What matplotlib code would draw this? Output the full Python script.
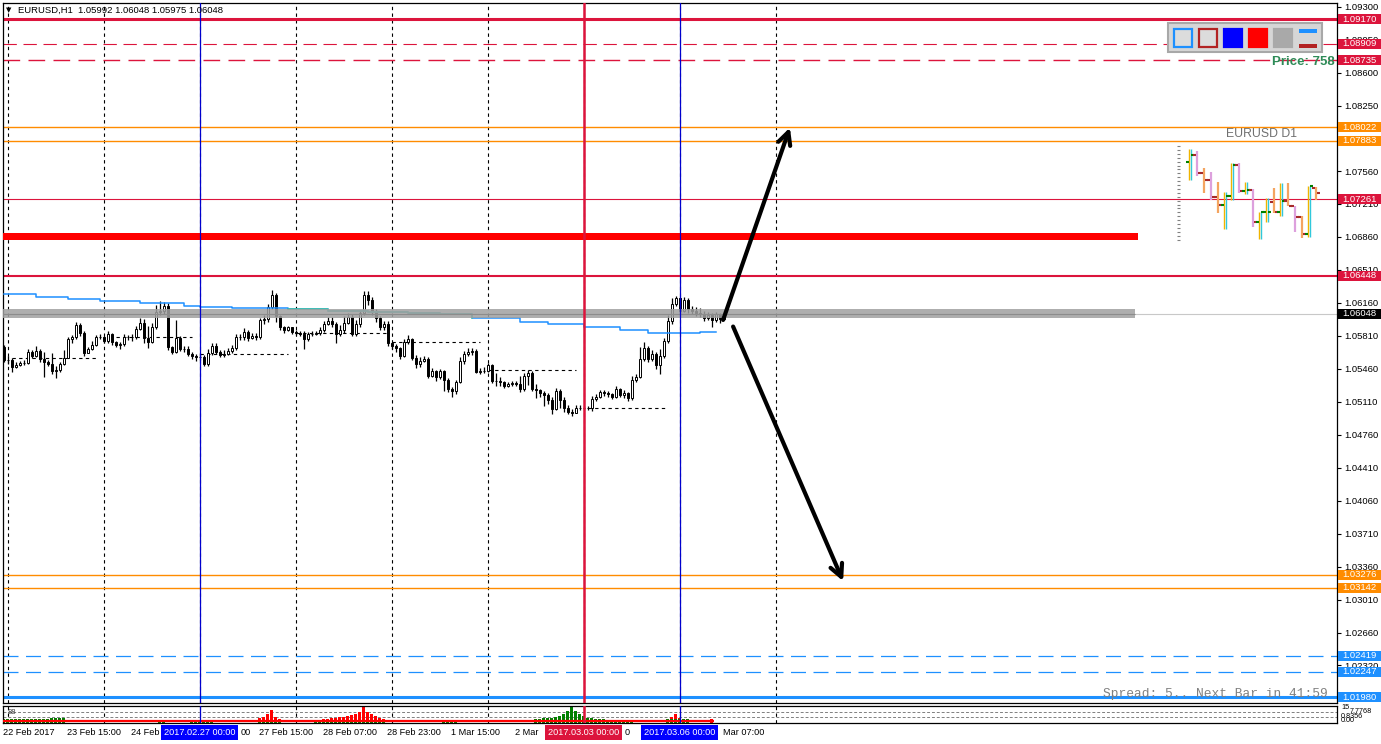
import numpy as np
import matplotlib
matplotlib.use("Agg")
import matplotlib.pyplot as plt
from matplotlib.patches import Rectangle
from matplotlib.transforms import blended_transform_factory as btf

plt.rcParams['font.family'] = ['Liberation Sans', 'DejaVu Sans']

# ---------------- data ----------------
first_open = 1.0569
close = [1.0556,1.0556,1.0548,1.0550,1.0552,1.0552,1.0564,1.0560,1.0565,1.0557,
         1.0553,1.0551,1.0544,1.0545,1.0551,1.0558,1.0578,1.0580,1.0593,1.0584,
         1.0563,1.0567,1.0571,1.0580,1.0580,1.0576,1.0583,1.0575,1.0571,1.0573,
         1.0580,1.0580,1.0580,1.0588,1.0595,1.0579,1.0575,1.0591,1.0606,1.0608,
         1.0613,1.0569,1.0564,1.0579,1.0567,1.0567,1.0562,1.0560,1.0559,1.0559,
         1.0551,1.0563,1.0570,1.0564,1.0561,1.0562,1.0565,1.0568,1.0580,1.0580,
         1.0585,1.0579,1.0581,1.0580,1.0598,1.0599,1.0612,1.0624,1.0602,1.0590,
         1.0587,1.0590,1.0585,1.0584,1.0583,1.0578,1.0583,1.0583,1.0584,1.0587,
         1.0594,1.0597,1.0594,1.0583,1.0587,1.0595,1.0601,1.0583,1.0594,1.0605,
         1.0624,1.0619,1.0606,1.0600,1.0590,1.0594,1.0574,1.0570,1.0568,1.0560,
         1.0575,1.0578,1.0558,1.0551,1.0554,1.0557,1.0539,1.0544,1.0537,1.0544,
         1.0534,1.0525,1.0523,1.0532,1.0554,1.0562,1.0564,1.0565,1.0543,1.0544,
         1.0544,1.0550,1.0533,1.0533,1.0532,1.0528,1.0530,1.0531,1.0530,1.0525,
         1.0539,1.0542,1.0525,1.0524,1.0521,1.0518,1.0513,1.0504,1.0523,1.0513,
         1.0505,1.0500,1.0499,1.0505,1.0505,1.0505,1.0505,1.0514,1.0516,1.0522,
         1.0521,1.0519,1.0516,1.0525,1.0518,1.0521,1.0515,1.0534,1.0537,1.0557,
         1.0568,1.0557,1.0562,1.0550,1.0560,1.0576,1.0597,1.0615,1.0621,1.0608,
         1.0619,1.0610,1.0608,1.0605,1.0604,1.0600,1.0603,1.0598,1.0604,1.05992,
         1.06048]
high = [1.0571,1.0560,1.0558,1.0553,1.0554,1.0556,1.0567,1.0566,1.0570,1.0567,
        1.0564,1.0556,1.0563,1.0549,1.0553,1.0566,1.0580,1.0582,1.0596,1.0595,
        1.0586,1.0569,1.0576,1.0582,1.0583,1.0581,1.0586,1.0584,1.0576,1.0575,
        1.0583,1.0582,1.0583,1.0592,1.0600,1.0599,1.0592,1.0595,1.0614,1.0618,
        1.0617,1.0616,1.0570,1.0598,1.0581,1.0570,1.0570,1.0564,1.0562,1.0563,
        1.0561,1.0567,1.0574,1.0574,1.0566,1.0566,1.0568,1.0571,1.0583,1.0583,
        1.0589,1.0587,1.0584,1.0584,1.0600,1.0603,1.0615,1.0630,1.0627,1.0603,
        1.0592,1.0592,1.0590,1.0587,1.0586,1.0586,1.0585,1.0586,1.0586,1.0590,
        1.0597,1.0601,1.0601,1.0596,1.0593,1.0602,1.0605,1.0604,1.0598,1.0609,
        1.0629,1.0629,1.0622,1.0610,1.0602,1.0597,1.0597,1.0575,1.0573,1.0569,
        1.0578,1.0582,1.0579,1.0561,1.0559,1.0560,1.0559,1.0547,1.0545,1.0546,
        1.0545,1.0536,1.0527,1.0534,1.0559,1.0565,1.0568,1.0568,1.0567,1.0547,
        1.0548,1.0552,1.0551,1.0542,1.0537,1.0533,1.0532,1.0533,1.0533,1.0539,
        1.0542,1.0545,1.0544,1.0530,1.0525,1.0523,1.0521,1.0516,1.0526,1.0525,
        1.0516,1.0508,1.0504,1.0508,1.0508,1.0507,1.0507,1.0517,1.0519,1.0524,
        1.0524,1.0523,1.0521,1.0528,1.0526,1.0524,1.0522,1.0539,1.0541,1.0569,
        1.0575,1.0570,1.0566,1.0564,1.0567,1.0579,1.0603,1.0621,1.0623,1.0622,
        1.0622,1.0621,1.0613,1.0612,1.0611,1.0608,1.0606,1.0605,1.0606,1.0605,
        1.06048]
low = [1.0553,1.0551,1.0543,1.0547,1.0549,1.0550,1.0551,1.0558,1.0559,1.0553,
       1.0537,1.0549,1.0541,1.0536,1.0543,1.0550,1.0558,1.0574,1.0578,1.0581,
       1.0560,1.0563,1.0566,1.0570,1.0578,1.0574,1.0574,1.0571,1.0569,1.0567,
       1.0570,1.0577,1.0576,1.0578,1.0587,1.0574,1.0568,1.0574,1.0588,1.0603,
       1.0604,1.0566,1.0562,1.0563,1.0565,1.0564,1.0560,1.0557,1.0554,1.0556,
       1.0549,1.0549,1.0561,1.0562,1.0559,1.0559,1.0561,1.0563,1.0566,1.0577,
       1.0577,1.0576,1.0578,1.0577,1.0578,1.0594,1.0596,1.0610,1.0596,1.0587,
       1.0584,1.0586,1.0583,1.0582,1.0581,1.0567,1.0576,1.0581,1.0582,1.0582,
       1.0585,1.0593,1.0591,1.0574,1.0581,1.0584,1.0594,1.0581,1.0581,1.0591,
       1.0603,1.0614,1.0603,1.0596,1.0587,1.0587,1.0570,1.0567,1.0564,1.0557,
       1.0559,1.0573,1.0556,1.0547,1.0548,1.0553,1.0536,1.0537,1.0533,1.0535,
       1.0523,1.0522,1.0516,1.0519,1.0531,1.0551,1.0560,1.0561,1.0542,1.0541,
       1.0542,1.0543,1.0531,1.0528,1.0528,1.0526,1.0527,1.0528,1.0528,1.0522,
       1.0523,1.0529,1.0523,1.0515,1.0516,1.0507,1.0509,1.0498,1.0503,1.0505,
       1.0500,1.0498,1.0496,1.0499,1.0503,1.0503,1.0503,1.0501,1.0512,1.0515,
       1.0517,1.0516,1.0514,1.0515,1.0516,1.0515,1.0512,1.0513,1.0532,1.0536,
       1.0554,1.0553,1.0554,1.0546,1.0541,1.0558,1.0574,1.0594,1.0613,1.0605,
       1.0606,1.0605,1.0604,1.0602,1.0601,1.0597,1.0598,1.0591,1.0596,1.0595,
       1.05975]

# moving average (stepped, read at bar indices)
ma_idx = [0, 8, 16, 24, 34, 45, 49, 57, 71, 81, 91, 101, 109, 117, 129, 136, 145, 154, 161, 169, 174, 178]
ma_val = [1.0626, 1.0622, 1.0620, 1.0618, 1.0616, 1.0613, 1.0612, 1.0611, 1.0610, 1.0608, 1.0606,
          1.0605, 1.0604, 1.0600, 1.0596, 1.0594, 1.0590, 1.0587, 1.0584, 1.0584, 1.0585, 1.0585]

# previous-day dashed levels: start bar, end bar, price
lvl_start = [2, 28, 49, 73, 97, 121, 146]
lvl_end = [23, 47, 71, 96, 119, 143, 166]
lvl_price = [1.0558, 1.0580, 1.0562, 1.0584, 1.0575, 1.0545, 1.0505]

# horizontal price lines
h_levels = [1.09170, 1.08909, 1.08735, 1.08022, 1.07883, 1.07261, 1.06448,
            1.06048, 1.03276, 1.03142, 1.02419, 1.02247, 1.01980]
h_labels = ["1.09170", "1.08909", "1.08735", "1.08022", "1.07883", "1.07261", "1.06448",
            "1.06048", "1.03276", "1.03142", "1.02419", "1.02247", "1.01980"]

price_ticks = [1.09300, 1.08950, 1.08600, 1.08250, 1.07560, 1.07210, 1.06860,
               1.06510, 1.06160, 1.05810, 1.05460, 1.05110, 1.04760, 1.04410, 1.04060,
               1.03710, 1.03360, 1.03010, 1.02660, 1.02320]

# time axis: visible label parts (bar index of label start, text)
time_idx = [0, 16, 32, 64, 80, 96, 112, 128]
time_lbl = ["22 Feb 2017", "23 Feb 15:00", "24 Feb", "27 Feb 15:00",
            "28 Feb 07:00", "28 Feb 23:00", "1 Mar 15:00", "2 Mar"]
# tails of labels that show beside the date boxes
tail_pos = [59.3, 155.3, 179.8]
tail_lbl = ["00", "0", "Mar 07:00"]

grid_idx = [1, 25, 49, 73, 97, 121, 145, 169, 193]
vline_idx = [49, 145, 169]
vline_lbl = ["2017.02.27 00:00", "2017.03.03 00:00", "2017.03.06 00:00"]

# zone rectangles (low, high, end bar)
red_zone = (1.06828, 1.06903, 283.6)
gray_zone = (1.06001, 1.06097, 282.9)

# arrows (from bar/price -> to bar/price)
arr_up = ((179.9, 1.0598), (196.6, 1.0802))
arr_dn = ((182.4, 1.0591), (209.9, 1.0321))

# sub-window indicator
green_idx = list(range(0, 16)) + [39, 40] + list(range(47, 53)) + list(range(64, 70)) \
    + list(range(78, 96)) + list(range(110, 114)) + list(range(133, 158)) + list(range(166, 172))
green_val = [4, 4, 4, 4, 4, 4, 4, 4, 4, 4, 4, 4, 5, 5, 5, 5,
             3.5, 3.5,
             3.5, 3.5, 3.5, 3.5, 3.5, 3.5,
             3.5, 3.5, 3.5, 3.5, 3.5, 3.5,
             3.5, 3.5, 3.5, 3.5, 3.5, 3.5, 3.5, 3.5, 3.5, 3.5, 3.5, 3.5, 3.5, 3.5, 3.5, 3.5, 3.5, 3.5,
             3, 3, 3, 3,
             4, 4, 5, 5, 5, 6, 7, 9, 12, 16, 12, 9, 7, 5, 5, 4, 4, 4, 3.5, 3.5, 3.5, 3.5, 3.5, 3.5, 3.5,
             4, 4, 4, 4, 4, 4]
red_idx = [64, 65, 66, 67, 68, 69] + list(range(80, 96)) + [167, 168, 169, 177]
red_val = [5, 6, 9, 13, 6, 4,
           4, 4, 5, 5, 6, 6, 7, 8, 9, 11, 16, 11, 9, 7, 5, 4,
           6, 9, 5, 4]

# mini D1 chart
d1_high = [1.0829, 1.0822, 1.0758, 1.0743, 1.0706, 1.0669, 1.0777, 1.0777, 1.0706, 1.0680,
           1.0595, 1.0647, 1.0684, 1.0703, 1.0703, 1.0617, 1.0580, 1.0691, 1.0688]
d1_low = [1.0714, 1.0729, 1.0665, 1.0639, 1.0591, 1.0531, 1.0639, 1.0665, 1.0662, 1.0539,
          1.0494, 1.0557, 1.0591, 1.0580, 1.0617, 1.0520, 1.0498, 1.0502, 1.0639]
d1_open = [1.0781, 1.0807, 1.0740, 1.0714, 1.0650, 1.0621, 1.0654, 1.0769, 1.0673, 1.0676,
           1.0557, 1.0595, 1.0632, 1.0595, 1.0636, 1.0617, 1.0576, 1.0513, 1.0684]
d1_close = [1.0807, 1.0740, 1.0714, 1.0650, 1.0621, 1.0654, 1.0769, 1.0673, 1.0676, 1.0557,
            1.0595, 1.0595, 1.0595, 1.0636, 1.0617, 1.0576, 1.0513, 1.0691, 1.0665]
d1_color = ['up', 'plum', 'sandy', 'plum', 'sandy', 'up', 'up', 'plum', 'up', 'plum',
            'up', 'up', 'sandy', 'up', 'sandy', 'plum', 'sandy', 'up', 'sandy']

# ---------------- figure ----------------
W, H = 1381, 744
fig = plt.figure(figsize=(W / 100, H / 100), dpi=100)
fig.patch.set_facecolor('white')


def fx(px):
    return px / W


def fy(py):
    return 1 - py / H


ax = fig.add_axes([fx(3), fy(703), 1334 / W, 700 / H])
axv = fig.add_axes([fx(3), fy(723), 1334 / W, 17 / H])
XL = (-0.125, 333.375)
ax.set_xlim(*XL)
ax.set_ylim(1.01917, 1.09342)
axv.set_xlim(*XL)
axv.set_ylim(0, 17)
for a in (ax, axv):
    for s in a.spines.values():
        s.set_linewidth(0.9)
        s.set_color('black')
    a.set_xticks([])
axv.set_yticks([])
ax.yaxis.tick_right()
ax.set_yticks(price_ticks)
ax.set_yticklabels([f"{v:.5f}" for v in price_ticks])
ax.tick_params(axis='y', direction='out', length=3, width=0.8, pad=2, labelsize=6.8)

# grid verticals
for a in (ax, axv):
    for g in grid_idx:
        a.axvline(g, color='black', lw=0.8, ls=(0, (3, 3)), zorder=1)

# horizontal lines
h_colors = ['#DC143C', '#DC143C', '#DC143C', '#FF8C00', '#FF8C00', '#DC143C', '#DC143C',
            '#C8C8C8', '#FF8C00', '#FF8C00', '#1E90FF', '#1E90FF', '#1E90FF']
h_widths = [2.2, 0.8, 1.0, 1.0, 1.0, 0.8, 1.5, 0.8, 1.0, 1.0, 0.9, 0.9, 2.2]
h_styles = ['-', (0, (12, 6)), (0, (12, 6)), '-', '-', '-', '-', '-', '-', '-',
            (0, (12, 6)), (0, (12, 6)), '-']
for lv, c, w, s in zip(h_levels, h_colors, h_widths, h_styles):
    ax.axhline(lv, color=c, lw=w, ls=s, zorder=2)

# candles
close_a = np.array(close)
open_a = np.array([first_open] + close[:-1])
hi_a = np.maximum(np.array(high), np.maximum(open_a, close_a))
lo_a = np.minimum(np.array(low), np.minimum(open_a, close_a))
idx = np.arange(len(close_a))
ax.vlines(idx, lo_a, hi_a, color='black', lw=0.9, zorder=3)
bottom = np.minimum(open_a, close_a)
height = np.abs(close_a - open_a)
fcol = ['white' if c >= o else 'black' for o, c in zip(open_a, close_a)]
ax.bar(idx, height, bottom=bottom, width=0.5, color=fcol, edgecolor='black', linewidth=0.7, zorder=3.1)

# previous-day levels
for s, e, p in zip(lvl_start, lvl_end, lvl_price):
    ax.hlines(p, s, e, color='black', lw=0.8, ls=(0, (3, 3)), zorder=2.5)

# moving average
ma_i = np.array(ma_idx)
ma_v = np.array(ma_val)
ax.plot(ma_i, ma_v, drawstyle='steps-post', color='#1E90FF', lw=1.1, zorder=3.5)
seg = (ma_i >= 71) & (ma_i <= 117)
ax.plot(ma_i[seg], ma_v[seg], drawstyle='steps-post', color='#3EC4A2', lw=1.1, zorder=3.6)

# zones
ax.fill_between([XL[0], red_zone[2]], red_zone[0], red_zone[1], color='#FF0000', lw=0, zorder=4)
ax.fill_between([XL[0], gray_zone[2]], gray_zone[0], gray_zone[1], color='#A0A0A0', alpha=0.85, lw=0, zorder=4)
ax.hlines(1.06048, XL[0], gray_zone[2], color='#8C8C8C', lw=0.8, zorder=4.1)

# vertical object lines
vcols = ['#0000CD', '#DC143C', '#0000CD']
vws = [0.9, 1.8, 0.9]
for a in (ax, axv):
    for v, c, w in zip(vline_idx, vcols, vws):
        a.axvline(v, color=c, lw=w, zorder=5)

# arrows
for (x0, y0), (x1, y1) in (arr_up, arr_dn):
    ax.annotate('', xy=(x1, y1), xytext=(x0, y0),
                arrowprops=dict(arrowstyle='->,head_length=0.9,head_width=0.45',
                                color='black', lw=3.0, shrinkA=0, shrinkB=0), zorder=6)

# price label boxes
box_cols = ['#DC143C', '#DC143C', '#DC143C', '#FF8C00', '#FF8C00', '#DC143C', '#DC143C',
            '#000000', '#FF8C00', '#FF8C00', '#1E90FF', '#1E90FF', '#1E90FF']
tr = btf(fig.transFigure, ax.transData)
bh = 0.00106
for lv, lb, c in zip(h_levels, h_labels, box_cols):
    ax.add_patch(Rectangle((fx(1338), lv - bh / 2), 43 / W, bh, transform=tr,
                           facecolor=c, edgecolor='none', clip_on=False, zorder=10))
    ax.text(fx(1342), lv, lb, transform=tr, color='white', fontsize=6.8,
            va='center', ha='left', clip_on=False, zorder=11)

# sub-window indicator
axv.bar(red_idx, red_val, width=0.8, color='#FF0000', lw=0, zorder=2)
axv.bar(green_idx, green_val, width=0.8, color='#008000', lw=0, zorder=2.5)
axv.hlines(1.6, -0.125, 177.5, color='#FF0000', lw=1.6, zorder=3)
axv.axhline(5.7, color='#808080', lw=0.7, ls=(0, (3, 2)), zorder=1)
axv.axhline(11.3, color='#808080', lw=0.7, ls=(0, (3, 2)), zorder=1)
fig.text(fx(8), fy(713), "88", fontsize=5.5, color='#404040', va='center')
for t, xx, yy in (("15", 1341, 707.5), ("7.7768", 1350, 711.5), ("0.8356", 1341, 716), ("0.00", 1341, 720.5)):
    fig.text(fx(xx), fy(yy), t, fontsize=5.2, va='center', ha='left')

# time axis labels
trx = btf(ax.transData, fig.transFigure)
for i, t in zip(time_idx, time_lbl):
    ax.text(i - 0.125, fy(732.5), t, transform=trx, fontsize=6.6, ha='left', va='center', clip_on=False)
for p, t in zip(tail_pos, tail_lbl):
    ax.text(p, fy(732.5), t, transform=trx, fontsize=6.6, ha='left', va='center', clip_on=False)
for i, t, c in zip(vline_idx, vline_lbl, ['#0000FF', '#DC143C', '#0000FF']):
    ax.text(i, fy(732.5), t, transform=trx, fontsize=6.6, ha='center', va='center', color='white',
            clip_on=False, zorder=12,
            bbox=dict(boxstyle='square,pad=0.3', facecolor=c, edgecolor='none'))

# header
fig.text(fx(6), fy(10), '\u25BC', fontsize=5.0, family='DejaVu Sans', va='center', ha='left')
fig.text(fx(18), fy(10), "EURUSD,H1  1.05992 1.06048 1.05975 1.06048", fontsize=6.8, va='center', ha='left')

# top-right button panel
fig.add_artist(Rectangle((fx(1168), fy(52)), 154 / W, 29 / H, transform=fig.transFigure,
                         facecolor='#D6D6D6', edgecolor='#A8A8A8', lw=1.5))
icons = [('#DCDCDC', '#1E90FF'), ('#DCDCDC', '#B22222'), ('#0000FF', '#0000FF'),
         ('#FF0000', '#FF0000'), ('#A9A9A9', '#A9A9A9')]
for k, (fc, ec) in enumerate(icons):
    x0 = 1174 + 25 * k
    fig.add_artist(Rectangle((fx(x0), fy(47)), 18 / W, 18 / H, transform=fig.transFigure,
                             facecolor=fc, edgecolor=ec, lw=1.6))
fig.add_artist(Rectangle((fx(1299), fy(33)), 18 / W, 4 / H, transform=fig.transFigure,
                         facecolor='#1E90FF', edgecolor='none'))
fig.add_artist(Rectangle((fx(1299), fy(48)), 18 / W, 4 / H, transform=fig.transFigure,
                         facecolor='#B22222', edgecolor='none'))

fig.text(fx(1335), fy(62), "Price: 758", fontsize=9.5, fontweight='bold', color='#2E8B57',
         ha='right', va='center')
fig.text(fx(1262), fy(134), "EURUSD D1", fontsize=8.8, color='#707070', ha='center', va='center')

# mini D1 chart
axd = fig.add_axes([fx(1176), fy(242), 146 / W, 99 / H])
axd.set_xlim(-2, -2 + 146 / 7)
axd.set_ylim(1.04830, 1.08513)
axd.axis('off')
scale_lv = np.linspace(1.0840, 1.0492, 25)
axd.hlines(scale_lv, -1.9, -1.4, color='#808080', lw=0.8)
for k in range(len(d1_high)):
    col = d1_color[k]
    if col == 'up':
        axd.vlines(k - 0.13, d1_low[k], d1_high[k], color='#F0B400', lw=1.0)
        axd.vlines(k + 0.13, d1_low[k], d1_high[k], color='#30C8DC', lw=1.0)
        tc = '#008000'
    else:
        axd.vlines(k, d1_low[k], d1_high[k], color='#DDA0DD' if col == 'plum' else '#F4A460', lw=1.6)
        tc = '#A52A2A'
    axd.hlines(d1_open[k], k - 0.55, k - 0.2, color=tc, lw=1.5)
    axd.hlines(d1_close[k], k + 0.2, k + 0.55, color=tc, lw=1.5)

# spread text
fig.text(fx(1328), fy(694), "Spread: 5.. Next Bar in 41:59", family='Liberation Mono',
         fontsize=9.3, color='#808080', ha='right', va='center')

fig.savefig('out.png', dpi=100, facecolor='white')
